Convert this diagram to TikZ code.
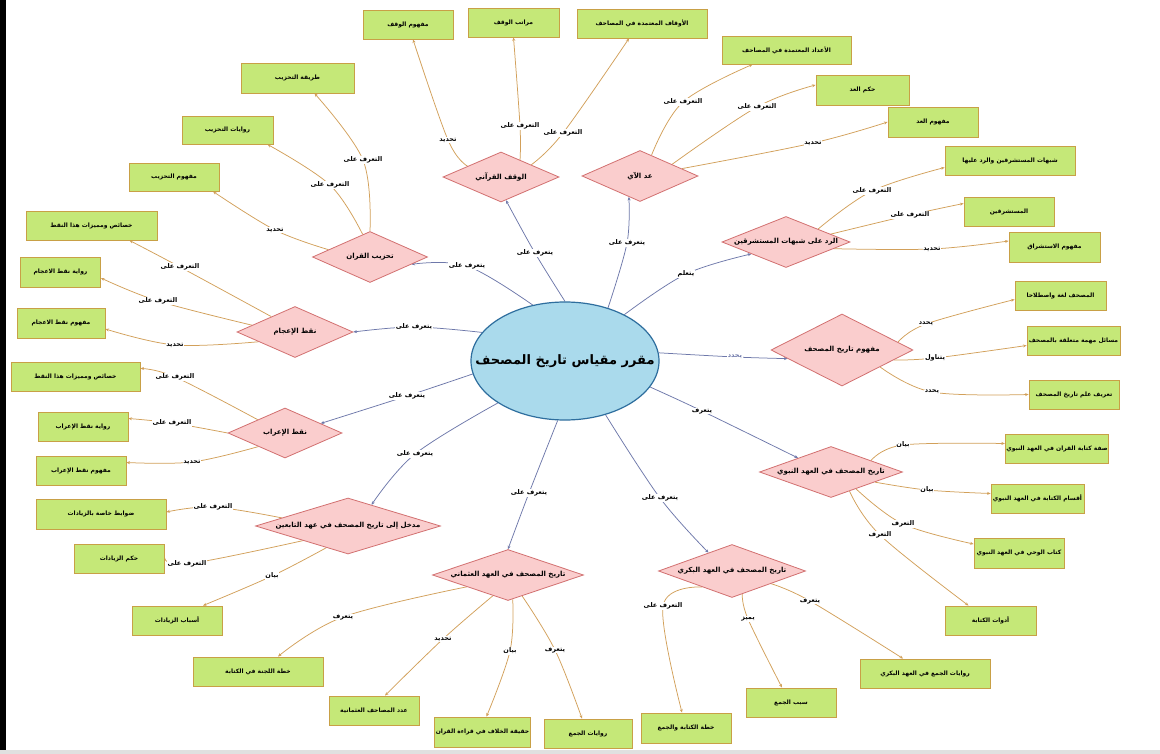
\documentclass[tikz,border=0pt]{standalone}
\usepackage{fontspec}
\newfontfamily\arabicfont[Script=Arabic]{DejaVu Sans}
\TeXXeTstate=1
\newcommand\AR[1]{\beginR #1\endR}
\usetikzlibrary{shapes.geometric,arrows.meta,backgrounds}
\definecolor{boxf}{HTML}{C5E878}
\definecolor{boxb}{HTML}{C8A046}
\definecolor{diaf}{HTML}{FACDCD}
\definecolor{diab}{HTML}{D27070}
\definecolor{ellf}{HTML}{AADAEC}
\definecolor{ellb}{HTML}{2E6E9E}
\definecolor{blc}{HTML}{6E78AA}
\definecolor{orc}{HTML}{D2A05A}
\begin{document}
\begin{tikzpicture}[x=1pt,y=-1pt,
  gbox/.style={rectangle, draw=boxb, fill=boxf, line width=0.9pt, minimum width=#1, minimum height=29pt, inner sep=1pt, font=\arabicfont\bfseries\fontsize{6}{8}\selectfont},
  gbox/.default=90,
  dia/.style={diamond, draw=diab, fill=diaf, line width=0.8pt, inner sep=0pt, font=\arabicfont\bfseries\fontsize{7}{8}\selectfont},
  lab/.style={fill=white, inner sep=0.6pt, font=\arabicfont\bfseries\fontsize{6.5}{7}\selectfont},
  bc/.style={draw=blc, line width=0.75pt, -{Stealth[length=3.5pt,width=3pt]}},
  oc/.style={draw=orc, line width=0.75pt, -{Stealth[length=3.5pt,width=3pt]}},
  sm/.style={smooth, tension=0.6}
]
\useasboundingbox (0,0) rectangle (1160,754);
\begin{scope}[on background layer]
\fill[white] (0,0) rectangle (1160,754);
\fill[black] (0,0) rectangle (6,750);
\fill[black!12] (0,750) rectangle (1160,754);
\end{scope}

% centre
\node[ellipse, draw=ellb, fill=ellf, line width=1.2pt, inner sep=0pt, minimum width=188pt, minimum height=118pt, font=\arabicfont\bfseries\fontsize{13}{15}\selectfont] (C) at (565,361) {\makebox[100pt][c]{\AR{مقرر مقياس تاريخ المصحف}}};

% diamonds
\node[dia, minimum width=116pt, minimum height=50pt, aspect=2.32] (dw) at (501,177) {\AR{الوقف القرآني}};
\node[dia, minimum width=116pt, minimum height=51pt, aspect=2.27] (da) at (640,176) {\AR{عد الآي}};
\node[dia, minimum width=128pt, minimum height=51pt, aspect=2.5] (dr) at (786,242) {\AR{الرد على شبهات المستشرقين}};
\node[dia, minimum width=142pt, minimum height=72pt, aspect=1.97] (dm) at (842,350) {\AR{مفهوم تاريخ المصحف}};
\node[dia, minimum width=143pt, minimum height=51pt, aspect=2.8] (dn) at (831,472) {\AR{تاريخ المصحف في العهد النبوي}};
\node[dia, minimum width=147pt, minimum height=53pt, aspect=2.77] (db) at (732,571) {\AR{تاريخ المصحف في العهد البكري}};
\node[dia, minimum width=151pt, minimum height=51pt, aspect=2.96] (du) at (508,575) {\AR{تاريخ المصحف في العهد  العثماني}};
\node[dia, minimum width=185pt, minimum height=56pt, aspect=3.3] (dt) at (348,526) {\AR{مدخل إلى تاريخ المصحف في عهد التابعين}};
\node[dia, minimum width=114pt, minimum height=50pt, aspect=2.28] (di) at (285,433) {\AR{نقط الإعراب}};
\node[dia, minimum width=116pt, minimum height=51pt, aspect=2.27] (dj) at (295,332) {\AR{نقط الإعجام}};
\node[dia, minimum width=115pt, minimum height=51pt, aspect=2.25] (dtz) at (370,257) {\AR{تحزيب القران}};

% boxes
\node[gbox] (b1) at (408,24.5) {\AR{مفهوم الوقف}};
\node[gbox=91] (b2) at (513.5,22.5) {\AR{مراتب الوقف}};
\node[gbox=130] (b3) at (642,23.5) {\AR{الأوقاف المعتمدة في المصاحف}};
\node[gbox=129, minimum height=28pt] (b4) at (786.5,50) {\AR{الأعداد المعتمدة في المصاحف}};
\node[gbox=93, minimum height=30pt] (b5) at (862.5,90) {\AR{حكم العد}};
\node[gbox, minimum height=30pt] (b6) at (933,122) {\AR{مفهوم العد}};
\node[gbox=130] (b7) at (1010,160.5) {\AR{شبهات المستشرقين والرد عليها}};
\node[gbox] (b8) at (1009,211.5) {\AR{المستشرقين}};
\node[gbox=91, minimum height=30pt] (b9) at (1054.5,247) {\AR{مفهوم الاستشراق}};
\node[gbox=91] (b10) at (1060.5,295.5) {\AR{المصحف لغة واصطلاحا}};
\node[gbox=93] (b11) at (1073.5,340.5) {\AR{مسائل مهمة متعلقة بالمصحف}};
\node[gbox] (b12) at (1074,394.5) {\AR{تعريف علم تاريخ المصحف}};
\node[gbox=102] (b13) at (1057,448.5) {\AR{صفة كتابة القران في العهد النبوي}};
\node[gbox=93] (b14) at (1037.5,498.5) {\AR{أقسام الكتابة في العهد النبوي}};
\node[gbox, minimum height=30pt] (b15) at (1019,553) {\AR{كتاب الوحي في العهد النبوي}};
\node[gbox=91] (b16) at (990.5,620.5) {\AR{أدوات الكتابة}};
\node[gbox=130] (b17) at (925,673.5) {\AR{روايات الجمع في العهد البكري}};
\node[gbox] (b18) at (791,702.5) {\AR{سبب الجمع}};
\node[gbox, minimum height=30pt] (b19) at (686,728) {\AR{خطة الكتابة والجمع}};
\node[gbox=88] (b20) at (588,733.5) {\AR{روايات الجمع}};
\node[gbox=91, minimum height=30pt] (b21) at (482.5,732) {\AR{حقيقة الخلاف في قراءة القران}};
\node[gbox] (b22) at (374,710.5) {\AR{عدد المصاحف العثمانية}};
\node[gbox=130] (b23) at (258,671.5) {\AR{خطة اللجنة في الكتابة}};
\node[gbox] (b24) at (177,620.5) {\AR{أسباب الزيادات}};
\node[gbox] (b25) at (119,558.5) {\AR{حكم الزيادات}};
\node[gbox=130, minimum height=30pt] (b26) at (101,514) {\AR{ضوابط خاصة بالزيادات}};
\node[gbox] (b27) at (81,470.5) {\AR{مفهوم نقط الإعراب}};
\node[gbox] (b28) at (83,426.5) {\AR{رواية نقط الإعراب}};
\node[gbox=129] (b29) at (75.5,376.5) {\AR{خصائص ومميزات هذا النقط}};
\node[gbox=88, minimum height=30pt] (b30) at (61,323) {\AR{مفهوم نقط الاعجام}};
\node[gbox=80, minimum height=30pt] (b31) at (60.5,272) {\AR{رواية نقط الاعجام}};
\node[gbox=131] (b32) at (91.5,225.5) {\AR{خصائص ومميزات هذا النقط}};
\node[gbox, minimum height=28pt] (b33) at (174,177) {\AR{مفهوم التحزيب}};
\node[gbox=91, minimum height=28pt] (b34) at (227.5,130) {\AR{روايات التحزيب}};
\node[gbox=113, minimum height=30pt] (b35) at (297.5,78) {\AR{طريقة التحزيب}};

% labels of centre connectors
\node[lab] (L1) at (467,266) {\AR{يتعرف على}};
\node[lab] (L2) at (535,253) {\AR{يتعرف على}};
\node[lab] (L3) at (627,243) {\AR{يتعرف على}};
\node[lab] (L4) at (686,274) {\AR{يتعلم}};
\node[lab, text=blc] (L5) at (735,357) {\AR{يحدد}};
\node[lab] (L6) at (702,411) {\AR{يتعرف}};
\node[lab] (L7) at (660,498) {\AR{يتعرف على}};
\node[lab] (L8) at (529,493) {\AR{يتعرف على}};
\node[lab] (L9) at (415,454) {\AR{يتعرف على}};
\node[lab] (L10) at (407,396) {\AR{يتعرف على}};
\node[lab] (L11) at (414,327) {\AR{يتعرف على}};

% labels of branch connectors
\node[lab] (La) at (448,140) {\AR{تحديد}};
\node[lab] (Lb) at (520,126) {\AR{التعرف على}};
\node[lab] (Lc) at (563,133) {\AR{التعرف على}};
\node[lab] (Ld) at (683,102) {\AR{التعرف على}};
\node[lab] (Le) at (757,107) {\AR{التعرف على}};
\node[lab] (Lf) at (813,143) {\AR{تحديد}};
\node[lab] (Lg) at (872,191) {\AR{التعرف على}};
\node[lab] (Lh) at (910,215) {\AR{التعرف على}};
\node[lab] (Li) at (932,249) {\AR{تحديد}};
\node[lab] (Lj) at (926,324) {\AR{يحدد}};
\node[lab] (Lk) at (935,358) {\AR{يتناول}};
\node[lab] (Ll) at (932,392) {\AR{يحدد}};
\node[lab] (Lm) at (903,445) {\AR{بيان}};
\node[lab] (Ln) at (927,490) {\AR{بيان}};
\node[lab] (Lo) at (903,524) {\AR{التعرف}};
\node[lab] (Lp) at (880,535) {\AR{التعرف}};
\node[lab] (Lq) at (810,601) {\AR{يتعرف}};
\node[lab] (Lr) at (748,619) {\AR{يميز}};
\node[lab] (Ls) at (663,606) {\AR{التعرف على}};
\node[lab] (Lt) at (343,617) {\AR{يتعرف}};
\node[lab] (Lu) at (443,639) {\AR{تحديد}};
\node[lab] (Lv) at (510,651) {\AR{بيان}};
\node[lab] (Lw) at (555,650) {\AR{يتعرف}};
\node[lab] (Lx) at (213,507) {\AR{التعرف على}};
\node[lab] (Ly) at (187,564) {\AR{التعرف على}};
\node[lab] (Lz) at (272,576) {\AR{بيان}};
\node[lab] (Laa) at (175,377) {\AR{التعرف على}};
\node[lab] (Lbb) at (172,423) {\AR{التعرف على}};
\node[lab] (Lcc) at (192,462) {\AR{تحديد}};
\node[lab] (Ldd) at (180,267) {\AR{التعرف على}};
\node[lab] (Lee) at (158,301) {\AR{التعرف على}};
\node[lab] (Lff) at (175,345) {\AR{تحديد}};
\node[lab] (Lgg) at (363,160) {\AR{التعرف على}};
\node[lab] (Lhh) at (330,185) {\AR{التعرف على}};
\node[lab] (Lii) at (275,230) {\AR{تحديد}};

\begin{scope}[on background layer]
% centre connectors
\draw[bc] plot[sm] coordinates {(C.120) (L1) (dtz.350)};
\draw[bc] plot[sm] coordinates {(C.north) (L2) (dw.282)};
\draw[bc] plot[sm] coordinates {(C.51) (L3) (da.242)};
\draw[bc] plot[sm] coordinates {(C.38) (L4) (dr.199)};
\draw[bc] plot[sm] coordinates {(C.5) (L5) (dm.189)};
\draw[bc] plot[sm] coordinates {(C.343) (L6) (dn.157)};
\draw[bc] plot[sm] coordinates {(C.307) (L7) (db.142)};
\draw[bc] plot[sm] coordinates {(C.263) (L8) (du.north)};
\draw[bc] plot[sm] coordinates {(C.212) (L9) (dt.42)};
\draw[bc] plot[sm] coordinates {(C.188) (L10) (di.15)};
\draw[bc] plot[sm] coordinates {(C.161) (L11) (dj.east)};
% branch connectors
\draw[oc] plot[sm] coordinates {(dw.162) (La) ([xshift=5pt]b1.south)};
\draw[oc] plot[sm] coordinates {(dw.42) (Lb) (b2.south)};
\draw[oc] plot[sm] coordinates {(dw.22) (Lc) ([xshift=-13pt]b3.south)};
\draw[oc] plot[sm] coordinates {(da.61) (Ld) ([xshift=-34pt]b4.south)};
\draw[oc] plot[sm] coordinates {(da.20) (Le) ([yshift=5pt]b5.west)};
\draw[oc] plot[sm] coordinates {(da.10) (Lf) (b6.west)};
\draw[oc] plot[sm] coordinates {(dr.22) (Lg) ([yshift=-7pt]b7.west)};
\draw[oc] plot[sm] coordinates {(dr.10) (Lh) ([yshift=8pt]b8.west)};
\draw[oc] plot[sm] coordinates {(dr.352) (Li) ([yshift=6pt]b9.west)};
\draw[oc] plot[sm] coordinates {(dm.8) (Lj) ([yshift=-4pt]b10.west)};
\draw[oc] plot[sm] coordinates {(dm.349) (Lk) ([yshift=-5pt]b11.west)};
\draw[oc] plot[sm] coordinates {(dm.336) (Ll) (b12.west)};
\draw[oc] plot[sm] coordinates {(dn.16) (Lm) ([yshift=5pt]b13.west)};
\draw[oc] plot[sm] coordinates {(dn.347) (Ln) ([yshift=5pt]b14.west)};
\draw[oc] plot[sm] coordinates {(dn.326) (Lo) ([yshift=9pt]b15.west)};
\draw[oc] plot[sm] coordinates {(dn.314) (Lp) ([xshift=-22pt]b16.north)};
\draw[oc] plot[sm] coordinates {(db.342) (Lq) ([xshift=-22pt]b17.north)};
\draw[oc] plot[sm] coordinates {(db.294) (Lr) ([xshift=-9pt]b18.north)};
\draw[oc] plot[sm] coordinates {(db.208) (Ls) ([xshift=-4pt]b19.north)};
\draw[oc] plot[sm] coordinates {(du.196) (Lt) ([xshift=20pt]b23.north)};
\draw[oc] plot[sm] coordinates {(du.234) (Lu) ([xshift=11pt]b22.north)};
\draw[oc] plot[sm] coordinates {(du.281) (Lv) ([xshift=4pt]b21.north)};
\draw[oc] plot[sm] coordinates {(du.304) (Lw) ([xshift=-6pt]b20.north)};
\draw[oc] plot[sm] coordinates {(dt.173) (Lx) ([yshift=2pt]b26.east)};
\draw[oc] plot[sm] coordinates {(dt.198) (Ly) ([yshift=2pt]b25.east)};
\draw[oc] plot[sm] coordinates {(dt.225) (Lz) ([xshift=26pt]b24.north)};
\draw[oc] plot[sm] coordinates {(di.154) (Laa) ([yshift=8pt]b29.east)};
\draw[oc] plot[sm] coordinates {(di.west) (Lbb) ([yshift=8pt]b28.east)};
\draw[oc] plot[sm] coordinates {(di.207) (Lcc) ([yshift=8pt]b27.east)};
\draw[oc] plot[sm] coordinates {(dj.147) (Ldd) ([xshift=38pt]b32.south)};
\draw[oc] plot[sm] coordinates {(dj.171) (Lee) ([yshift=-6pt]b31.east)};
\draw[oc] plot[sm] coordinates {(dj.195) (Lff) ([yshift=-6pt]b30.east)};
\draw[oc] plot[sm] coordinates {(dtz.north) (Lgg) ([xshift=17pt]b35.south)};
\draw[oc] plot[sm] coordinates {(dtz.108) (Lhh) ([xshift=40pt]b34.south)};
\draw[oc] plot[sm] coordinates {(dtz.170) (Lii) ([xshift=39pt]b33.south)};
\end{scope}
\end{tikzpicture}
\end{document}
